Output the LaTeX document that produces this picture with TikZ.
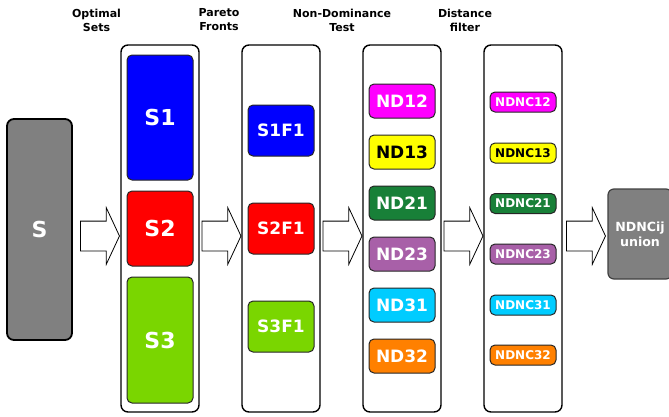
\documentclass[tikz,border=0pt]{standalone}
\usepackage{fontspec}
\setmainfont{DejaVu Sans}
\usetikzlibrary{shapes.arrows}
\definecolor{sgray}{RGB}{128,128,128}
\definecolor{sblue}{RGB}{0,0,255}
\definecolor{sred}{RGB}{255,0,0}
\definecolor{sgreen}{RGB}{122,214,0}
\definecolor{nmagenta}{RGB}{255,0,255}
\definecolor{nyellow}{RGB}{255,255,0}
\definecolor{ngreen}{RGB}{24,128,56}
\definecolor{npurple}{RGB}{168,96,168}
\definecolor{ncyan}{RGB}{0,204,255}
\definecolor{norange}{RGB}{255,128,0}

\begin{document}
\begin{tikzpicture}[x=1pt,y=-1pt,
col/.style={draw,line width=1.4pt,rounded corners=7pt,minimum width=78pt,minimum height=367pt,inner sep=0pt},
inbox/.style={draw=black!85,line width=1pt,rounded corners=5pt,minimum width=66pt,inner sep=0pt,text=white,font=\bfseries\fontsize{17}{17}\selectfont},
bigbox/.style={inbox,font=\bfseries\fontsize{22}{22}\selectfont},
ncbox/.style={inbox,minimum height=20pt,font=\bfseries\fontsize{12}{13}\selectfont},
hdr/.style={align=center,inner sep=0pt,font=\bfseries\fontsize{11}{14}\selectfont},
blockarr/.style={single arrow,draw,line width=.8pt,fill=white,minimum height=39pt,inner xsep=0pt,inner ysep=14.5pt,single arrow head extend=13.5pt,single arrow tip angle=130}]
\useasboundingbox (0,0) rectangle (669,416);

% headers
\node[hdr] (h1) at(96.5,20) {Optimal\\Sets};
\node[hdr] (h2) at(219,20) {Pareto\\Fronts};
\node[hdr] (h3) at(342,20) {Non-Dominance\\Test};
\node[hdr] (h4) at(465,20) {Distance\\filter};

% input and output
\node[bigbox,draw=black,line width=1.8pt,rounded corners=7pt,fill=sgray,minimum width=65pt,minimum height=221pt] (s) at(39.5,229.5) {S};
\node[inbox,draw=black!75,line width=1.2pt,rounded corners=6pt,fill=sgray,minimum width=64pt,minimum height=90pt,align=center,font=\bfseries\fontsize{12.6}{15}\selectfont] (u) at(640,234) {NDNCij\\union};

% columns
\node[col] (c1) at(160,228.5) {};
\node[col] (c2) at(281,228.5) {};
\node[col] (c3) at(402,228.5) {};
\node[col] (c4) at(523,228.5) {};

% optimal sets
\node[bigbox,fill=sblue,minimum height=125pt] (s1) at(160,117.5) {S1};
\node[bigbox,fill=sred,minimum height=75pt] (s2) at(160,228.5) {S2};
\node[bigbox,fill=sgreen,minimum height=126pt] (s3) at(160,340) {S3};

% pareto fronts
\node[inbox,fill=sblue,minimum height=51pt] (f1) at(281,130.5) {S1F1};
\node[inbox,fill=sred,minimum height=51pt] (f2) at(281,228.5) {S2F1};
\node[inbox,fill=sgreen,minimum height=51pt] (f3) at(281,326.5) {S3F1};

% non-dominance
\node[inbox,fill=nmagenta,minimum height=34pt] (nd12) at(402,101) {ND12};
\node[inbox,fill=nyellow,minimum height=34pt,text=black] (nd13) at(402,152) {ND13};
\node[inbox,fill=ngreen,minimum height=34pt] (nd21) at(402,203) {ND21};
\node[inbox,fill=npurple,minimum height=34pt] (nd23) at(402,254) {ND23};
\node[inbox,fill=ncyan,minimum height=34pt] (nd31) at(402,305) {ND31};
\node[inbox,fill=norange,minimum height=34pt] (nd32) at(402,356) {ND32};

% distance filter
\node[ncbox,fill=nmagenta] (nc12) at(523,102) {NDNC12};
\node[ncbox,fill=nyellow,text=black] (nc13) at(523,153) {NDNC13};
\node[ncbox,fill=ngreen] (nc21) at(523,203.5) {NDNC21};
\node[ncbox,fill=npurple] (nc23) at(523,254) {NDNC23};
\node[ncbox,fill=ncyan] (nc31) at(523,305) {NDNC31};
\node[ncbox,fill=norange] (nc32) at(523,355) {NDNC32};

% block arrows
\node[blockarr] (a1) at(96.5,236) {};
\node[blockarr] (a2) at(218,236) {};
\node[blockarr] (a3) at(339,236) {};
\node[blockarr] (a4) at(460,236) {};
\node[blockarr] (a5) at(582.5,236) {};
\end{tikzpicture}
\end{document}
